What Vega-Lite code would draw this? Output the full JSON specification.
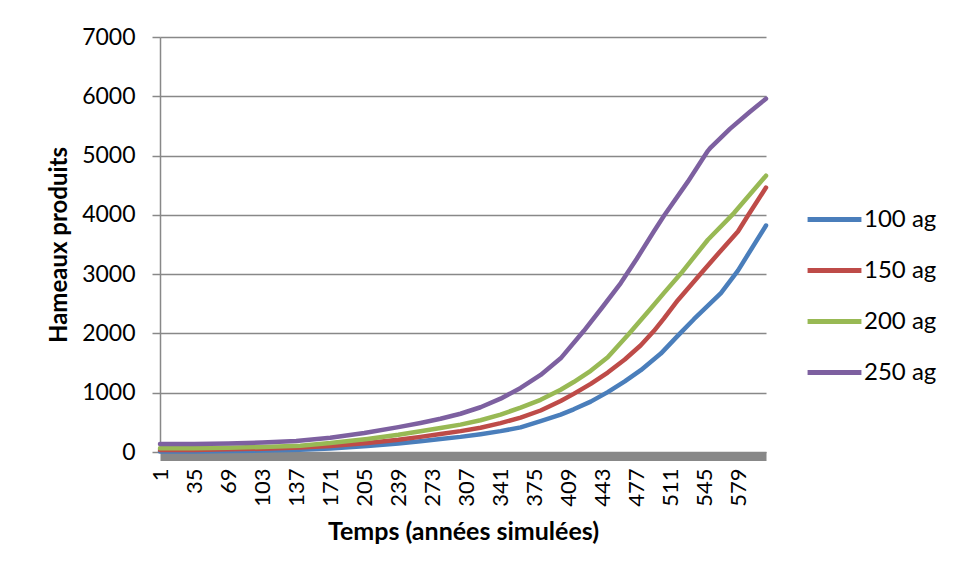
{
  "$schema": "https://vega.github.io/schema/vega-lite/v6.json",
  "autosize": "none",
  "width": 606,
  "height": 415,
  "padding": {"left": 160, "top": 37, "right": 191, "bottom": 125},
  "background": "white",
  "config": {
    "font": "Lato",
    "view": {"stroke": null},
    "axis": {"labelFont": "Lato", "titleFont": "Lato", "labelColor": "#000000", "titleColor": "#000000"}
  },
  "datasets": {
    "series": [
      {"t": 1, "v": 10, "s": "\u00a0100 ag"}, {"t": 35, "v": 10, "s": "\u00a0100 ag"}, {"t": 69, "v": 15, "s": "\u00a0100 ag"}, {"t": 103, "v": 25, "s": "\u00a0100 ag"}, {"t": 141, "v": 40, "s": "\u00a0100 ag"}, {"t": 171, "v": 60, "s": "\u00a0100 ag"}, {"t": 208, "v": 100, "s": "\u00a0100 ag"}, {"t": 239, "v": 145, "s": "\u00a0100 ag"}, {"t": 261, "v": 182, "s": "\u00a0100 ag"}, {"t": 281, "v": 218, "s": "\u00a0100 ag"}, {"t": 301, "v": 255, "s": "\u00a0100 ag"}, {"t": 321, "v": 300, "s": "\u00a0100 ag"}, {"t": 341, "v": 352, "s": "\u00a0100 ag"}, {"t": 361, "v": 415, "s": "\u00a0100 ag"}, {"t": 381, "v": 520, "s": "\u00a0100 ag"}, {"t": 401, "v": 630, "s": "\u00a0100 ag"}, {"t": 414, "v": 720, "s": "\u00a0100 ag"}, {"t": 431, "v": 850, "s": "\u00a0100 ag"}, {"t": 448, "v": 1010, "s": "\u00a0100 ag"}, {"t": 465, "v": 1190, "s": "\u00a0100 ag"}, {"t": 481, "v": 1380, "s": "\u00a0100 ag"}, {"t": 501, "v": 1660, "s": "\u00a0100 ag"}, {"t": 519, "v": 1980, "s": "\u00a0100 ag"}, {"t": 534, "v": 2240, "s": "\u00a0100 ag"}, {"t": 561, "v": 2680, "s": "\u00a0100 ag"}, {"t": 578, "v": 3060, "s": "\u00a0100 ag"}, {"t": 606, "v": 3820, "s": "\u00a0100 ag"},
      {"t": 1, "v": 35, "s": "150 ag"}, {"t": 35, "v": 35, "s": "150 ag"}, {"t": 69, "v": 45, "s": "150 ag"}, {"t": 103, "v": 55, "s": "150 ag"}, {"t": 141, "v": 75, "s": "150 ag"}, {"t": 171, "v": 100, "s": "150 ag"}, {"t": 208, "v": 150, "s": "150 ag"}, {"t": 239, "v": 205, "s": "150 ag"}, {"t": 261, "v": 255, "s": "150 ag"}, {"t": 281, "v": 305, "s": "150 ag"}, {"t": 301, "v": 352, "s": "150 ag"}, {"t": 321, "v": 410, "s": "150 ag"}, {"t": 341, "v": 488, "s": "150 ag"}, {"t": 361, "v": 580, "s": "150 ag"}, {"t": 381, "v": 700, "s": "150 ag"}, {"t": 401, "v": 860, "s": "150 ag"}, {"t": 414, "v": 980, "s": "150 ag"}, {"t": 431, "v": 1150, "s": "150 ag"}, {"t": 448, "v": 1340, "s": "150 ag"}, {"t": 465, "v": 1560, "s": "150 ag"}, {"t": 481, "v": 1800, "s": "150 ag"}, {"t": 494, "v": 2040, "s": "150 ag"}, {"t": 504, "v": 2250, "s": "150 ag"}, {"t": 518, "v": 2560, "s": "150 ag"}, {"t": 541, "v": 3010, "s": "150 ag"}, {"t": 558, "v": 3340, "s": "150 ag"}, {"t": 578, "v": 3720, "s": "150 ag"}, {"t": 588, "v": 3990, "s": "150 ag"}, {"t": 606, "v": 4460, "s": "150 ag"},
      {"t": 1, "v": 65, "s": "200 ag"}, {"t": 35, "v": 65, "s": "200 ag"}, {"t": 69, "v": 70, "s": "200 ag"}, {"t": 103, "v": 85, "s": "200 ag"}, {"t": 141, "v": 105, "s": "200 ag"}, {"t": 171, "v": 150, "s": "200 ag"}, {"t": 208, "v": 220, "s": "200 ag"}, {"t": 239, "v": 290, "s": "200 ag"}, {"t": 261, "v": 350, "s": "200 ag"}, {"t": 281, "v": 405, "s": "200 ag"}, {"t": 301, "v": 462, "s": "200 ag"}, {"t": 321, "v": 535, "s": "200 ag"}, {"t": 341, "v": 630, "s": "200 ag"}, {"t": 361, "v": 750, "s": "200 ag"}, {"t": 381, "v": 880, "s": "200 ag"}, {"t": 401, "v": 1050, "s": "200 ag"}, {"t": 414, "v": 1180, "s": "200 ag"}, {"t": 431, "v": 1370, "s": "200 ag"}, {"t": 448, "v": 1600, "s": "200 ag"}, {"t": 469, "v": 1990, "s": "200 ag"}, {"t": 491, "v": 2420, "s": "200 ag"}, {"t": 504, "v": 2680, "s": "200 ag"}, {"t": 521, "v": 3010, "s": "200 ag"}, {"t": 548, "v": 3580, "s": "200 ag"}, {"t": 574, "v": 4030, "s": "200 ag"}, {"t": 606, "v": 4660, "s": "200 ag"},
      {"t": 1, "v": 135, "s": "250 ag"}, {"t": 35, "v": 135, "s": "250 ag"}, {"t": 69, "v": 145, "s": "250 ag"}, {"t": 103, "v": 160, "s": "250 ag"}, {"t": 137, "v": 185, "s": "250 ag"}, {"t": 171, "v": 240, "s": "250 ag"}, {"t": 205, "v": 320, "s": "250 ag"}, {"t": 239, "v": 420, "s": "250 ag"}, {"t": 261, "v": 490, "s": "250 ag"}, {"t": 281, "v": 560, "s": "250 ag"}, {"t": 301, "v": 645, "s": "250 ag"}, {"t": 321, "v": 755, "s": "250 ag"}, {"t": 341, "v": 900, "s": "250 ag"}, {"t": 361, "v": 1080, "s": "250 ag"}, {"t": 381, "v": 1300, "s": "250 ag"}, {"t": 401, "v": 1580, "s": "250 ag"}, {"t": 424, "v": 2040, "s": "250 ag"}, {"t": 443, "v": 2450, "s": "250 ag"}, {"t": 461, "v": 2850, "s": "250 ag"}, {"t": 477, "v": 3260, "s": "250 ag"}, {"t": 494, "v": 3720, "s": "250 ag"}, {"t": 504, "v": 3980, "s": "250 ag"}, {"t": 528, "v": 4560, "s": "250 ag"}, {"t": 548, "v": 5080, "s": "250 ag"}, {"t": 551, "v": 5140, "s": "250 ag"}, {"t": 570, "v": 5450, "s": "250 ag"}, {"t": 590, "v": 5740, "s": "250 ag"}, {"t": 606, "v": 5960, "s": "250 ag"}
    ]
  },
  "data": {"name": "series"},
  "mark": {"type": "line", "strokeWidth": 4.5, "strokeCap": "round", "strokeJoin": "round", "clip": false},
  "encoding": {
    "x": {
      "field": "t",
      "type": "quantitative",
      "scale": {"domain": [1, 606], "nice": false, "zero": false},
      "axis": {
        "values": [1, 35, 69, 103, 137, 171, 205, 239, 273, 307, 341, 375, 409, 443, 477, 511, 545, 579],
        "labelAngle": -90,
        "labelFontSize": 22,
        "labelPadding": 12,
        "labelFlush": false,
        "labelOverlap": false,
        "ticks": false,
        "grid": false,
        "domainColor": "#888888",
        "domainWidth": 9,
        "offset": 4,
        "title": "Temps (années simulées)",
        "titleFontSize": 25,
        "titleFontWeight": "bold",
        "titlePadding": 13
      }
    },
    "y": {
      "field": "v",
      "type": "quantitative",
      "scale": {"domain": [0, 7000], "nice": false},
      "axis": {
        "values": [0, 1000, 2000, 3000, 4000, 5000, 6000, 7000],
        "format": "d",
        "labelFontSize": 23,
        "labelPadding": 17,
        "tickSize": 8,
        "tickColor": "#888888",
        "tickWidth": 1.5,
        "domainColor": "#888888",
        "domainWidth": 1.5,
        "gridColor": "#888888",
        "gridWidth": 1.5,
        "title": "Hameaux produits",
        "titleFontSize": 24,
        "titleFontWeight": "bold",
        "titlePadding": 10
      }
    },
    "color": {
      "field": "s",
      "type": "nominal",
      "scale": {
        "domain": ["\u00a0100 ag", "150 ag", "200 ag", "250 ag"],
        "range": ["#4A7EBB", "#BE4B48", "#98B954", "#7D60A0"]
      },
      "legend": {
        "title": null,
        "orient": "none",
        "legendX": 645,
        "legendY": 153,
        "symbolType": "stroke",
        "symbolSize": 2900,
        "symbolStrokeWidth": 5,
        "labelFontSize": 24,
        "labelFont": "Lato",
        "labelColor": "#000000",
        "labelOffset": 0,
        "rowPadding": 9,
        "labelLimit": 200
      }
    }
  }
}
